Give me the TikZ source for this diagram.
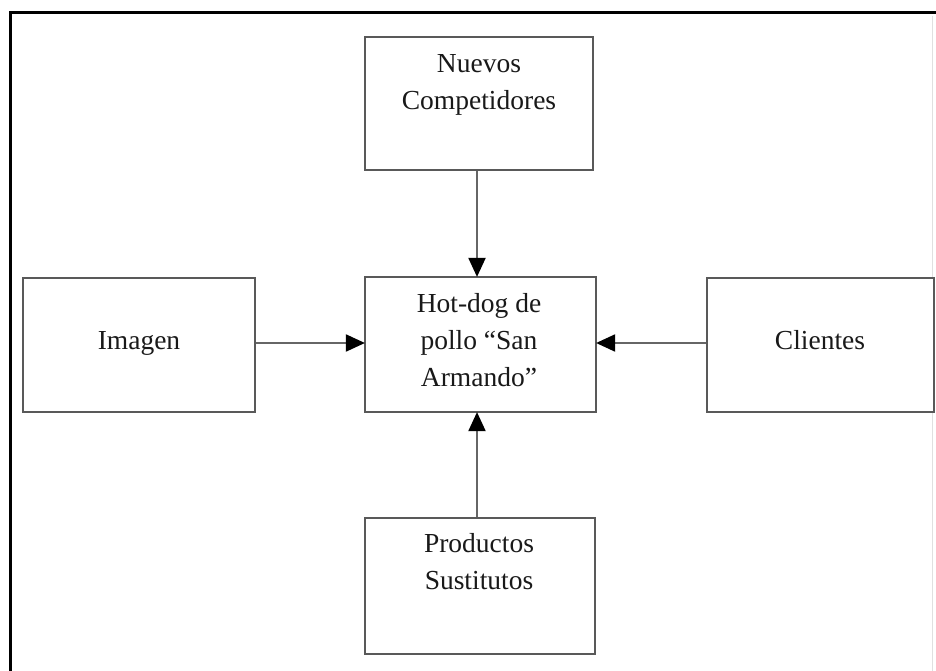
\documentclass[tikz,border=0pt]{standalone}
\usepackage{fontspec}
\setmainfont{Liberation Serif}
\usetikzlibrary{arrows.meta}
\begin{document}
\begin{tikzpicture}[x=1pt,y=-1pt,
  box/.style={draw=black!65, line width=2.2pt, minimum width=#1, inner sep=0pt, fill=white},
  txt/.style={font=\fontsize{27.5}{37}\selectfont, align=center, inner sep=0pt, text=black!90},
  conn/.style={draw=black!60, line width=2pt, -{Triangle[length=19pt,width=17pt,color=black]}, shorten >=-1pt}
]
\useasboundingbox (0,0) rectangle (936,671);
\fill[white] (0,0) rectangle (936,671);
% outer frame
\draw[black, line width=3pt] (10.5,671) -- (10.5,13) -- (936,13);
\draw[black!12, line width=1pt] (932,16) -- (932,671);
% boxes
\node[box=228pt, minimum height=133pt] (top) at (479,103.5) {};
\node[box=231pt, minimum height=135pt] (mid) at (480.5,344.5) {};
\node[box=230pt, minimum height=136pt] (bot) at (480,586) {};
\node[box=232pt, minimum height=134pt] (left) at (139,345) {};
\node[box=227pt, minimum height=134pt] (right) at (820.5,345) {};
% texts
\node[txt] (ttop) at (479,85) {Nuevos\\Competidores};
\node[txt] (tmid) at (479,340) {Hot-dog de\\pollo “San\\Armando”};
\node[txt] (tbot) at (479,562) {Productos\\Sustitutos};
\node[txt] (tleft) at (139,343) {Imagen};
\node[txt] (tright) at (820,340) {Clientes};
% connectors
\draw[conn] (top.south -| 477,0) -- (mid.north -| 477,0);
\draw[conn] (bot.north -| 477,0) -- (mid.south -| 477,0);
\draw[conn] (left.east |- 0,343) -- (mid.west |- 0,343);
\draw[conn] (right.west |- 0,343) -- (mid.east |- 0,343);
\end{tikzpicture}
\end{document}
